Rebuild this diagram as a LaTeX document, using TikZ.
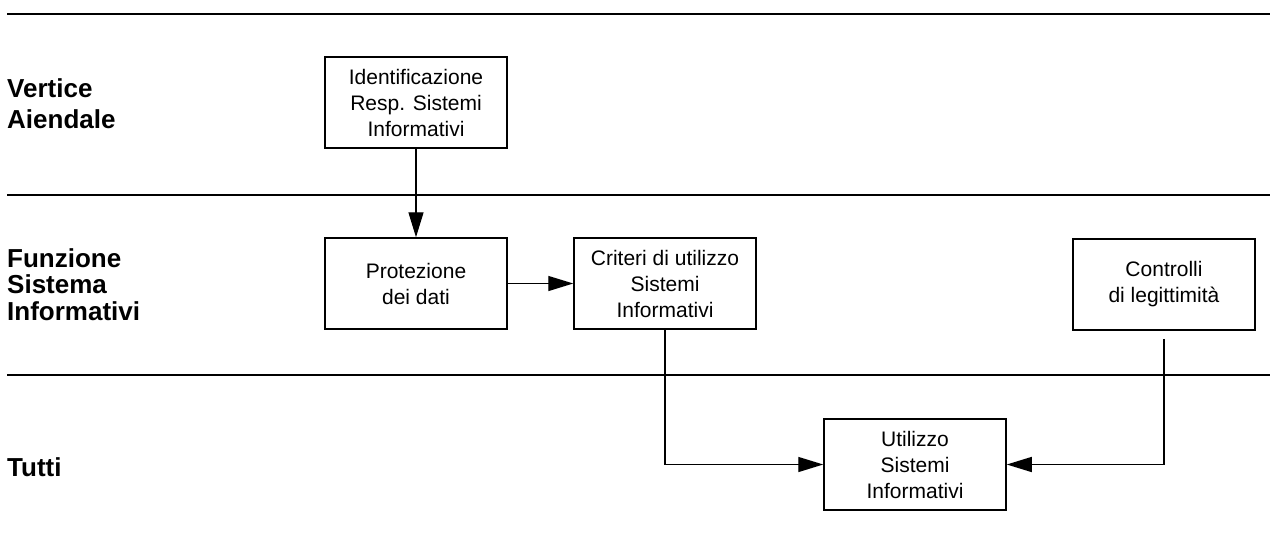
\documentclass[tikz,border=0pt]{standalone}
\usepackage{fontspec}
\setmainfont{Liberation Sans}
\usetikzlibrary{arrows.meta}
\tikzset{
	box/.style={draw, line width=1.5pt, minimum width=182pt, minimum height=91pt, inner sep=0pt, align=center, font=\fontsize{21}{26}\selectfont},
	lane/.style={anchor=base west, inner sep=0pt, align=left, font=\fontsize{26}{26.5}\selectfont\bfseries},
	flow/.style={line width=1.4pt, -{Triangle[length=25pt,width=15pt]}}
}
\begin{document}
\begin{tikzpicture}[x=1pt,y=-1pt]
		\useasboundingbox (0,0) rectangle (1270,549);
		\foreach \y in {14,195,375} \draw[line width=1.5pt] (7,\y) -- (1270,\y);
		% base anchor sits on the last line
		\node[lane, font=\fontsize{26}{31}\selectfont\bfseries] (vertice) at (7,128) {Vertice\\Aiendale};
		\node[lane] (funzione) at (7,320) {Funzione\\Sistema\\Informativi};
		\node[lane] (tutti) at (7,476) {Tutti};
		\node[box] (ident) at (416,102.5) {Identificazione\\Resp. Sistemi\\Informativi};
		\node[box] (prot) at (416,283.5) {Protezione\\dei dati};
		\node[box] (crit) at (665,283.5) {Criteri di utilizzo\\Sistemi\\Informativi};
		\node[box] (ctrl) at (1164,284.5) {Controlli\\di legittimità};
		\node[box] (util) at (915,464.5) {Utilizzo\\Sistemi\\Informativi};
		\draw[flow] (ident) -- (prot);
		\draw[flow] (prot) -- (crit);
		\draw[flow] (crit.south) |- (util.west);
		\draw[flow, shorten <=8pt] (ctrl.south) |- (util.east);
\end{tikzpicture}
\end{document}
